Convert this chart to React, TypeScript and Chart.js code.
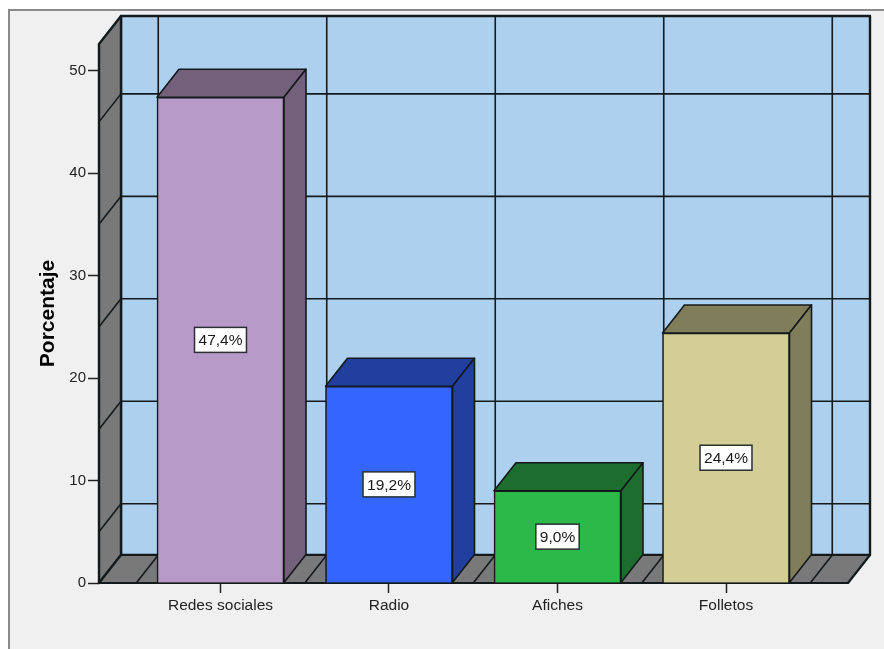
import { useEffect, useRef } from "react";
import { Chart, registerables } from "chart.js";
import type { Plugin } from "chart.js";

Chart.register(...registerables);

const categories = ["Redes sociales", "Radio", "Afiches", "Folletos"];
const percentages = [47.4, 19.2, 9.0, 24.4];
const valueLabels = ["47,4%", "19,2%", "9,0%", "24,4%"];
const frontColors = ["#b89ac8", "#3366ff", "#2db84a", "#d3cd96"];
const shadeColors = ["#73607a", "#213f9f", "#1d6e2e", "#807e5a"];
const wallGridValues = [5, 15, 25, 35, 45];
const wallGridPositions = [-0.5, 0.5, 1.5, 2.5, 3.5];

const DEPTH_X = 22;
const DEPTH_Y = 28;
const INK = "#14191c";
const WALL = "#797979";
const BACK = "#add0ee";
const FONT = "'Liberation Sans', Arial, sans-serif";

function poly(ctx: CanvasRenderingContext2D, pts: number[][], fill: string | null, stroke: string, lw: number) {
  ctx.beginPath();
  pts.forEach(([x, y], i) => (i ? ctx.lineTo(x, y) : ctx.moveTo(x, y)));
  ctx.closePath();
  if (fill) {
    ctx.fillStyle = fill;
    ctx.fill();
  }
  ctx.strokeStyle = stroke;
  ctx.lineWidth = lw;
  ctx.lineJoin = "round";
  ctx.stroke();
}

function line(ctx: CanvasRenderingContext2D, x1: number, y1: number, x2: number, y2: number, lw = 1.6) {
  ctx.beginPath();
  ctx.moveTo(x1, y1);
  ctx.lineTo(x2, y2);
  ctx.strokeStyle = INK;
  ctx.lineWidth = lw;
  ctx.stroke();
}

// Window-style panel behind the whole chart.
const panelPlugin: Plugin<"bar"> = {
  id: "panel",
  beforeDraw(chart) {
    const { ctx, width, height } = chart;
    ctx.save();
    ctx.fillStyle = "#ffffff";
    ctx.fillRect(0, 0, width, height);
    ctx.fillStyle = "#f0f0f0";
    ctx.fillRect(9, 10, width - 9, height - 10);
    ctx.fillStyle = "#8a8a8a";
    ctx.fillRect(8, 9, width - 8, 2);
    ctx.fillRect(8, 9, 2, height - 9);
    ctx.restore();
  },
};

// Left wall, floor and back wall of the 3D box, with their grid lines.
const boxPlugin: Plugin<"bar"> = {
  id: "box",
  beforeDatasetsDraw(chart) {
    const { ctx, chartArea: a, scales } = chart;
    const { left, right, top, bottom } = a;
    const dx = DEPTH_X;
    const dy = DEPTH_Y;
    ctx.save();
    poly(ctx, [[left + dx, top - dy], [right + dx, top - dy], [right + dx, bottom - dy], [left + dx, bottom - dy]], BACK, INK, 2.4);
    poly(ctx, [[left, top], [left + dx, top - dy], [left + dx, bottom - dy], [left, bottom]], WALL, INK, 2.4);
    poly(ctx, [[left, bottom], [left + dx, bottom - dy], [right + dx, bottom - dy], [right, bottom]], WALL, INK, 2.2);
    wallGridValues.forEach((v) => {
      const y = scales.y.getPixelForValue(v);
      line(ctx, left, y, left + dx, y - dy);
      line(ctx, left + dx, y - dy, right + dx, y - dy);
    });
    wallGridPositions.forEach((v) => {
      const x = scales.x.getPixelForValue(v);
      line(ctx, x, bottom, x + dx, bottom - dy);
      line(ctx, x + dx, bottom - dy, x + dx, top - dy);
    });
    ctx.restore();
  },
};

// Top and side faces are drawn behind each bar's front rectangle.
const barDepthPlugin: Plugin<"bar"> = {
  id: "barDepth",
  beforeDatasetsDraw(chart) {
    const { ctx } = chart;
    ctx.save();
    chart.getDatasetMeta(0).data.forEach((el: any, i) => {
      const l = el.x - el.width / 2;
      const r = el.x + el.width / 2;
      const t = el.y;
      const b = el.base;
      poly(ctx, [[l, t], [l + DEPTH_X, t - DEPTH_Y], [r + DEPTH_X, t - DEPTH_Y], [r, t]], shadeColors[i], INK, 1.6);
      poly(ctx, [[r, t], [r + DEPTH_X, t - DEPTH_Y], [r + DEPTH_X, b - DEPTH_Y], [r, b]], shadeColors[i], INK, 1.6);
    });
    ctx.restore();
  },
};

// Boxed value captions centred on each bar's front face.
const valueLabelPlugin: Plugin<"bar"> = {
  id: "valueLabels",
  afterDatasetsDraw(chart) {
    const { ctx } = chart;
    ctx.save();
    ctx.font = `15.5px ${FONT}`;
    ctx.textAlign = "center";
    ctx.textBaseline = "middle";
    chart.getDatasetMeta(0).data.forEach((el: any, i) => {
      const text = valueLabels[i];
      const w = ctx.measureText(text).width + 8;
      const h = 25;
      const cx = el.x;
      const cy = (el.y + el.base) / 2;
      ctx.fillStyle = "#ffffff";
      ctx.fillRect(cx - w / 2, cy - h / 2, w, h);
      ctx.strokeStyle = "#2a2f33";
      ctx.lineWidth = 1.5;
      ctx.strokeRect(cx - w / 2, cy - h / 2, w, h);
      ctx.fillStyle = "#1a1a1a";
      ctx.fillText(text, cx, cy + 1);
    });
    ctx.restore();
  },
};

export default function App() {
  const canvasRef = useRef<HTMLCanvasElement>(null);

  useEffect(() => {
    document.body.style.margin = "0";
    const chart = new Chart(canvasRef.current as HTMLCanvasElement, {
      type: "bar",
      data: {
        datasets: [
          {
            data: percentages.map((y, x) => ({ x, y })),
            backgroundColor: frontColors,
            borderColor: INK,
            borderWidth: 1.6,
            barThickness: 127,
          },
        ],
      },
      options: {
        responsive: false,
        animation: false,
        layout: { padding: { left: 36, right: 36, top: 44, bottom: 28 } },
        plugins: { legend: { display: false }, tooltip: { enabled: false } },
        scales: {
          x: {
            type: "linear",
            offset: false,
            min: -0.721,
            max: 3.724,
            afterBuildTicks: (scale) => {
              scale.ticks = categories.map((_, value) => ({ value }));
            },
            grid: { display: true, offset: false, drawOnChartArea: false, drawTicks: true, tickLength: 10, tickColor: "#222222", tickWidth: 1.5 },
            border: { display: false },
            ticks: {
              autoSkip: false,
              maxRotation: 0,
              padding: 3,
              color: "#222222",
              font: { family: FONT, size: 15.5 },
              callback: (v) => categories[Number(v)],
            },
            afterFit: (scale) => {
              scale.height = 38;
            },
          },
          y: {
            min: 0,
            max: 52.6,
            ticks: {
              stepSize: 10,
              includeBounds: false,
              padding: 2,
              color: "#222222",
              font: { family: FONT, size: 15 },
            },
            grid: { display: true, drawOnChartArea: false, drawTicks: true, tickLength: 11, tickColor: "#222222", tickWidth: 1.5 },
            border: { display: false },
            title: {
              display: true,
              text: "Porcentaje",
              color: "#000000",
              font: { family: FONT, size: 21, weight: "bold" },
              padding: { top: 0, bottom: 0 },
            },
            afterFit: (scale) => {
              scale.width = 63;
            },
          },
        },
      },
      plugins: [panelPlugin, boxPlugin, barDepthPlugin, valueLabelPlugin],
    });
    return () => chart.destroy();
  }, []);

  return <canvas ref={canvasRef} width={884} height={649} style={{ display: "block" }} />;
}
